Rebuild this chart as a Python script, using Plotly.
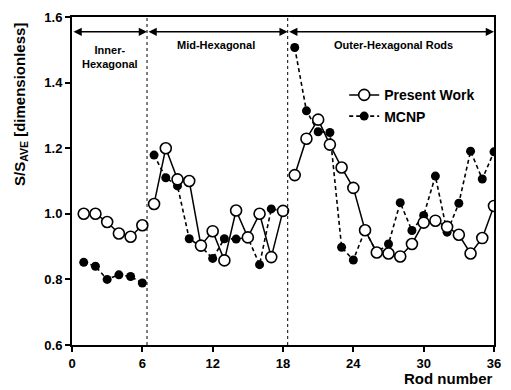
import plotly.graph_objects as go

# Rod numbers grouped by hexagonal ring
inner_rods = [1, 2, 3, 4, 5, 6]
mid_rods = [7, 8, 9, 10, 11, 12, 13, 14, 15, 16, 17, 18]
outer_rods = [19, 20, 21, 22, 23, 24, 25, 26, 27, 28, 29, 30, 31, 32, 33, 34, 35, 36]

# Normalised source strength S/S_AVE, present work
present_inner = [1.00, 1.00, 0.975, 0.94, 0.93, 0.965]
present_mid = [1.03, 1.20, 1.105, 1.10, 0.903, 0.947, 0.858, 1.01, 0.928, 1.00, 0.868, 1.009]
present_outer = [1.118, 1.229, 1.287, 1.211, 1.141, 1.079, 0.95, 0.882, 0.879, 0.87, 0.908,
                 0.973, 0.979, 0.96, 0.936, 0.879, 0.926, 1.024]

# Normalised source strength S/S_AVE, MCNP
mcnp_inner = [0.852, 0.84, 0.80, 0.814, 0.809, 0.789]
mcnp_mid = [1.179, 1.11, 1.085, 0.924, 0.90, 0.864, 0.924, 0.923, 0.928, 0.845, 1.015, 1.009]
mcnp_outer = [1.507, 1.314, 1.25, 1.248, 0.898, 0.859, 0.95, 0.882, 0.908, 1.034, 0.949,
              0.995, 1.115, 0.944, 1.032, 1.191, 1.106, 1.189]

# Ring boundaries and their labels
boundaries = [6.4, 18.4]
region_spans = [(0, 6.4), (6.4, 18.4), (18.4, 36)]
region_labels = ["Inner-<br>Hexagonal", "Mid-Hexagonal", "Outer-Hexagonal Rods"]
region_label_x = [3.2, 12.3, 27.4]
region_label_y = [1.525, 1.54, 1.54]

x_ticks = [0, 6, 12, 18, 24, 30, 36]
y_ticks = [0.6, 0.8, 1.0, 1.2, 1.4, 1.6]

FONT = "Liberation Sans, Arial, sans-serif"


def joined(*groups):
    """Concatenate ring groups with gaps so lines break at the ring boundaries."""
    out = []
    for i, g in enumerate(groups):
        if i:
            out.append(None)
        out.extend(g)
    return out


rods = joined(inner_rods, mid_rods, outer_rods)
present = joined(present_inner, present_mid, present_outer)
mcnp = joined(mcnp_inner, mcnp_mid, mcnp_outer)

fig = go.Figure()

fig.add_trace(go.Scatter(
    x=rods, y=mcnp, name="MCNP", mode="lines+markers",
    connectgaps=False,
    line=dict(color="black", width=1.6, dash="4px,3px"),
    marker=dict(symbol="circle", size=9, color="black"),
))
fig.add_trace(go.Scatter(
    x=rods, y=present, name="Present Work", mode="lines+markers",
    connectgaps=False,
    line=dict(color="black", width=1.5),
    marker=dict(symbol="circle", size=11, color="white",
                line=dict(color="black", width=1.6)),
))

# Dotted ring boundaries
for b in boundaries:
    fig.add_shape(type="line", x0=b, x1=b, y0=0.6, y1=1.6, xref="x", yref="y",
                  line=dict(color="black", width=1, dash="dot"))

# Double-headed span arrows along the top
for x0, x1 in region_spans:
    fig.add_annotation(x=x1, y=1.555, ax=x0, ay=1.555, xref="x", yref="y",
                       axref="x", ayref="y", text="", showarrow=True,
                       arrowhead=2, startarrowhead=2, arrowside="end+start",
                       arrowsize=1.1, startarrowsize=1.1, arrowwidth=1.5,
                       arrowcolor="black")

for lbl, lx, ly in zip(region_labels, region_label_x, region_label_y):
    fig.add_annotation(x=lx, y=ly, xref="x", yref="y", text=lbl, showarrow=False,
                       yanchor="top", font=dict(family=FONT, size=11, color="black",
                                                weight="bold"))

# Axis titles
fig.add_annotation(x=0, y=1, xref="paper", yref="paper", xshift=-52, yshift=-88,
                   text="S/S<sub>AVE</sub> [dimensionless]", textangle=-90,
                   showarrow=False, xanchor="center", yanchor="middle",
                   font=dict(family=FONT, size=15, color="black", weight="bold"))
fig.add_annotation(x=1, y=0, xref="paper", yref="paper", yshift=-33,
                   text="Rod number", showarrow=False, xanchor="right", yanchor="middle",
                   font=dict(family=FONT, size=15, color="black", weight="bold"))

fig.update_xaxes(range=[0, 36], tickvals=x_ticks, ticks="outside", ticklen=5,
                 tickwidth=1.5, tickcolor="black", showline=True, linecolor="black",
                 linewidth=2, mirror=True, showgrid=False, zeroline=False,
                 tickfont=dict(family=FONT, size=13, color="black", weight="bold"))
fig.update_yaxes(range=[0.6, 1.6], tickvals=y_ticks, tickformat=".1f", ticks="outside",
                 ticklen=5, tickwidth=1.5, tickcolor="black", showline=True,
                 linecolor="black", linewidth=2, mirror=True, showgrid=False,
                 zeroline=False,
                 tickfont=dict(family=FONT, size=13, color="black", weight="bold"))

fig.update_layout(
    width=511, height=390,
    margin=dict(l=72, r=10, t=15, b=45),
    paper_bgcolor="white", plot_bgcolor="white",
    showlegend=True,
    legend=dict(x=0.645, y=0.81, xanchor="left", yanchor="top",
                traceorder="reversed", bgcolor="rgba(0,0,0,0)",
                font=dict(family=FONT, size=14, color="black", weight="bold"),
                itemwidth=30, tracegroupgap=0),
)

fig.write_html("out.html")
